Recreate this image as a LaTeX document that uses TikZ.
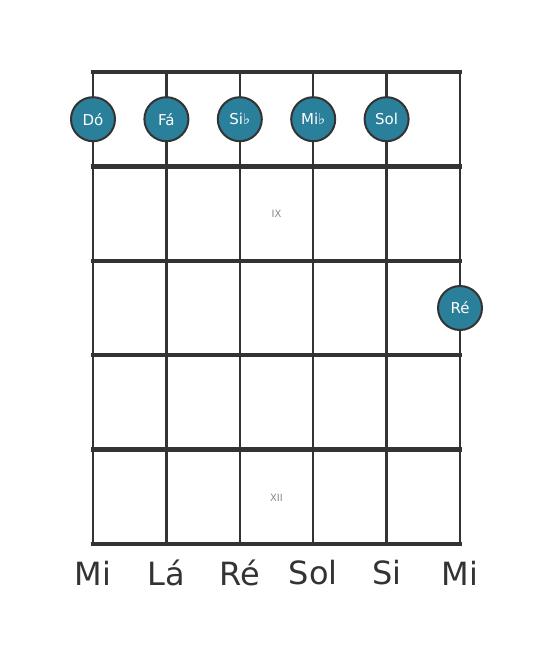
\documentclass[tikz,border=0pt]{standalone}
\usepackage{fontspec}
\setmainfont{DejaVu Sans}
\definecolor{dotfill}{HTML}{2A7F9A}
\definecolor{linecol}{HTML}{333333}
\definecolor{fretnum}{HTML}{888888}
\tikzset{
  fretline/.style={draw=linecol, line width=4.4pt},
  stringline/.style={draw=linecol, line width=2.4pt},
  notedot/.style={circle, fill=dotfill, draw=linecol, line width=2pt, minimum size=44pt, inner sep=0pt, text=white, font=\fontsize{15}{15}\selectfont},
  stringlabel/.style={text=linecol, font=\fontsize{32}{32}\selectfont},
  fretlabel/.style={text=fretnum, font=\fontsize{10}{10}\selectfont}
}
\begin{document}
\begin{tikzpicture}[x=1pt,y=-1pt]
\useasboundingbox (0,0) rectangle (553,656);
\foreach \i/\x in {0/93,1/166.4,2/239.8,3/313.2,4/386.6,5/460}{
  \draw[stringline] (\x,72) -- (\x,544);
}
\foreach \y in {72,166.4,260.8,355.2,449.6,544}{
  \draw[fretline, line cap=rect] (93,\y) -- (460,\y);
}
\node[fretlabel] (f9) at (276.5,214) {IX};
\node[fretlabel] (f12) at (276.5,497.5) {XII};
\node[notedot] (n1) at (93,119.2) {Dó};
\node[notedot] (n2) at (166.4,119.2) {Fá};
\node[notedot] (n3) at (239.8,119.2) {Si♭};
\node[notedot] (n4) at (313.2,119.2) {Mi♭};
\node[notedot] (n5) at (386.6,119.2) {Sol};
\node[notedot] (n6) at (460,308) {Ré};
\node[stringlabel] (s1) at (93,573) {Mi};
\node[stringlabel] (s2) at (166.4,573) {Lá};
\node[stringlabel] (s3) at (239.8,573) {Ré};
\node[stringlabel] (s4) at (313.2,573) {Sol};
\node[stringlabel] (s5) at (386.6,573) {Si};
\node[stringlabel] (s6) at (460,573) {Mi};
\end{tikzpicture}
\end{document}
